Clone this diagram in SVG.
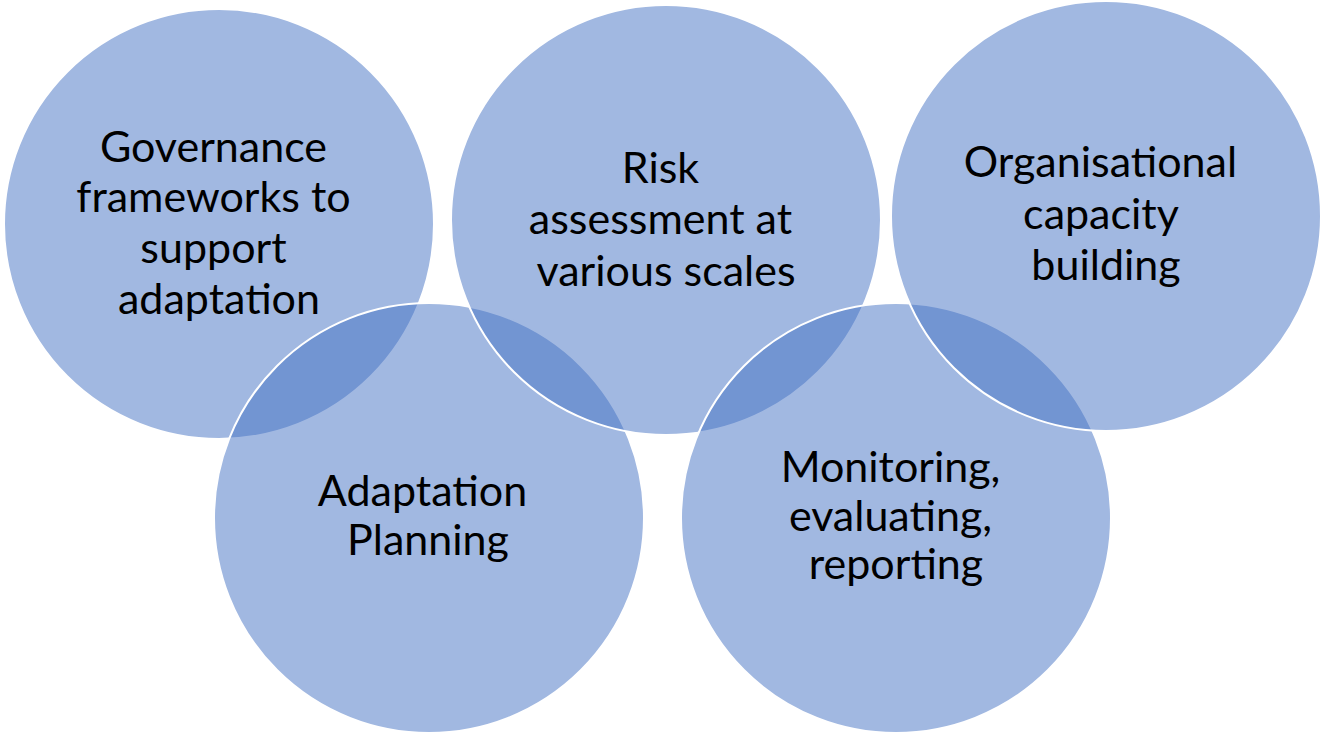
<svg xmlns="http://www.w3.org/2000/svg" width="1322" height="734" viewBox="0 0 1322 734">
  <style>
    .ring { fill: #4472C4; fill-opacity: 0.5; stroke: #FFFFFF; stroke-width: 2; }
    .label { font-family: Lato, "Liberation Sans", sans-serif; font-size: 43px; fill: #000000; text-anchor: middle; }
  </style>
  <rect width="1322" height="734" fill="#FFFFFF"/>
  <!-- drawing order gives the overlap stacking: left to right, zig-zag -->
  <g id="node-governance">
    <circle class="ring" cx="219" cy="224" r="215"/>
    <text class="label">
      <tspan x="219" y="162">Governance</tspan>
      <tspan x="219" y="212">frameworks to</tspan>
      <tspan x="219" y="263">support</tspan>
      <tspan x="219" y="314">adaptation</tspan>
    </text>
  </g>
  <g id="node-planning">
    <circle class="ring" cx="429" cy="518" r="215"/>
    <text class="label">
      <tspan x="428" y="506">Adaptation</tspan>
      <tspan x="428" y="555">Planning</tspan>
    </text>
  </g>
  <g id="node-risk">
    <circle class="ring" cx="666" cy="220" r="215"/>
    <text class="label">
      <tspan x="666" y="183">Risk</tspan>
      <tspan x="666" y="234">assessment at</tspan>
      <tspan x="666" y="286">various scales</tspan>
    </text>
  </g>
  <g id="node-monitoring">
    <circle class="ring" cx="896" cy="518" r="215"/>
    <text class="label">
      <tspan x="896" y="482">Monitoring,</tspan>
      <tspan x="896" y="531">evaluating,</tspan>
      <tspan x="896" y="579">reporting</tspan>
    </text>
  </g>
  <g id="node-capacity">
    <circle class="ring" cx="1106" cy="216" r="215"/>
    <text class="label">
      <tspan x="1106" y="177">Organisational</tspan>
      <tspan x="1106" y="229">capacity</tspan>
      <tspan x="1106" y="280">building</tspan>
    </text>
  </g>
  <g id="connectors"/>
</svg>
